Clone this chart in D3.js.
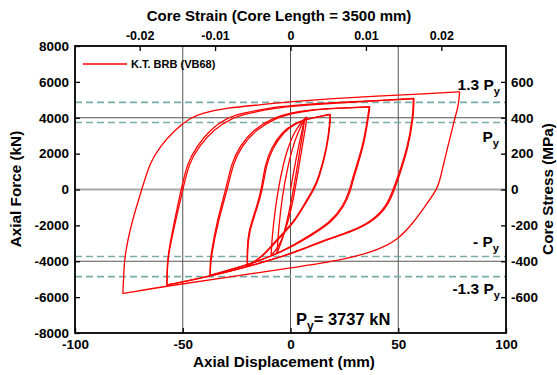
<!DOCTYPE html>
<html>
<head>
<meta charset="utf-8">
<script src="https://cdn.jsdelivr.net/npm/d3@7"></script>
<style>
  body { margin: 0; background: #fff; }
  text { font-family: "Liberation Sans", Arial, sans-serif; font-weight: bold; fill: #000; }
</style>
</head>
<body>
<svg id="chart" width="557" height="375"></svg>
<script>
// ---------- tick labels ----------
const forceTicks = [-8000, -6000, -4000, -2000, 0, 2000, 4000, 6000, 8000];
const dispTicks = [-100, -50, 0, 50, 100];
const strainTicks = [-0.02, -0.01, 0, 0.01, 0.02];
const strainTickLabels = ["-0.02", "-0.01", "0", "0.01", "0.02"];
const stressTicks = [-600, -400, -200, 0, 200, 400, 600];
const coreLength = 3500;
const Py = 3737;
const refLevels = [1.3 * Py, Py, -Py, -1.3 * Py];
const gridX = [-50, 0, 50];
const gridY = [4000, -4000];

// ---------- hysteresis branches [displacement mm, force kN] ----------
const init0 = [[0,0],[3,2000],[6.5,3900]];
const comp1 = [[6.5,3900],[6,3400],[4.5,2300],[2,400],[-1,-1500],[-4,-2900],[-5.8,-3400],[-6.3,-3550]];
const tens1 = [[-6.3,-3550],[-6,-3100],[-5.5,-2200],[-4,-500],[-1.5,1200],[2,2800],[5.5,3700],[6.5,3900]];
const comp2 = [[7.5,4050],[7.2,3600],[6,2800],[3.5,1000],[1,-800],[-2.5,-2400],[-6,-3300],[-8.5,-3600],[-9,-3650]];
const tens2 = [[-9,-3650],[-8.8,-3300],[-8.5,-2600],[-7,-1000],[-5,500],[-2,2100],[2,3300],[6.5,3950],[7.5,4050]];
const comp3 = [[18.3,4170],[18.3,4000],[18.2,3720],[17,2400],[12.8,550],[10.5,0],[5.8,-940],[1.2,-1850],[-4.9,-2600],[-10,-3300],[-14,-3800],[-19,-4200],[-20,-4280]];
const tens3 = [[-20,-4280],[-20.1,-4000],[-20.1,-3500],[-19.8,-2400],[-15.6,-940],[-13.5,0],[-11.8,1400],[-9,2300],[-4,3200],[2,3700],[8,3950],[17,4150],[18.3,4170]];
const comp3b = [[18.5,4190],[18.5,4000],[18.4,3720],[17.2,2400],[13.1,550],[10.9,0],[6.2,-940],[1.6,-1850],[-4.4,-2600],[-9.6,-3300],[-13.6,-3800],[-19,-4200],[-20,-4280]];
const tens3b = [[-20,-4280],[-20,-4000],[-19.9,-3500],[-19.4,-2400],[-15.2,-940],[-13,0],[-11.2,1400],[-8.3,2300],[-3.3,3200],[2.5,3700],[8.5,3950],[17,4170],[18.5,4190]];
const comp4 = [[36.5,4590],[36.3,4400],[35.8,4000],[33.6,2400],[28.5,550],[27.6,0],[24.4,-940],[18.3,-1850],[9,-2550],[0,-3200],[-8,-3680],[-20,-4220],[-36,-4740],[-37.3,-4780]];
const tens4 = [[-37.3,-4780],[-37.3,-4500],[-37.2,-4000],[-37,-3720],[-34.3,-1850],[-30,0],[-27.3,1500],[-23.6,2400],[-17.4,3330],[-8,4000],[0,4270],[9,4440],[20,4530],[35,4585],[36.5,4590]];
const comp4b = [[36.8,4620],[36.6,4400],[36.1,4000],[34,2400],[29,550],[28.1,0],[25,-940],[19,-1850],[9.8,-2550],[0.5,-3200],[-8,-3670],[-20,-4200],[-36,-4740],[-37.3,-4780]];
const tens4b = [[-37.3,-4780],[-37.2,-4500],[-36.8,-3720],[-33.8,-1850],[-29.3,0],[-26.5,1500],[-22.7,2400],[-16.2,3330],[-6.5,4000],[0,4230],[9,4420],[20,4520],[35,4610],[36.8,4620]];
const comp5 = [[57,5050],[56.9,4600],[56.6,4000],[54.5,2400],[49.4,550],[47.6,0],[44.5,-940],[38,-1750],[28,-2350],[16,-2800],[6,-3300],[-5,-3800],[-30,-4650],[-56,-5300],[-57.4,-5330]];
const tens5 = [[-57.4,-5330],[-57.3,-5000],[-57.2,-4500],[-57,-3720],[-54,-1850],[-50.8,0],[-47.8,1500],[-43.5,2400],[-37.4,3330],[-29.5,4000],[-22,4270],[-9.5,4550],[0,4680],[20,4850],[40,4960],[55,5040],[57,5050]];
const comp5b = [[57.3,5080],[57.2,4600],[56.9,4000],[54.9,2400],[49.9,550],[48.2,0],[45.1,-940],[38.7,-1750],[28.8,-2350],[16.8,-2800],[6.6,-3300],[-4.6,-3780],[-30,-4640],[-56,-5300],[-57.4,-5330]];
const tens5b = [[-57.4,-5330],[-57.3,-5000],[-57,-3720],[-53.5,-1850],[-50,0],[-47,1500],[-42.5,2400],[-35.8,3330],[-27,4000],[-19,4270],[-6,4550],[0,4630],[20,4820],[40,4940],[55,5070],[57.3,5080]];
const comp6 = [[78.5,5450],[78.2,5000],[77.5,4500],[76.3,4000],[73,2400],[69.4,550],[68,0],[62.4,-940],[57,-1850],[50,-2780],[41.5,-3330],[26,-3900],[0,-4380],[-30,-4900],[-57.4,-5380],[-76,-5770],[-77.8,-5800]];
const tens6 = [[-77.8,-5800],[-77.6,-5300],[-77.3,-4600],[-77,-3720],[-73.8,-1850],[-69,0],[-65.3,1500],[-60.5,2400],[-53.6,3330],[-46.6,4000],[-40.6,4270],[-29.5,4550],[-14,4720],[0,4900],[20,5080],[40,5200],[60,5320],[76,5430],[78.5,5450]];
const branches = [init0, comp1, tens1, comp2, tens2, comp3, tens3, comp3b, tens3b,
  comp4, tens4, comp4b, tens4b, comp5, tens5, comp5b, tens5b, comp6, tens6];
const seriesName = "K.T. BRB (VB68)";

// ---------- layout ----------
const svg = d3.select("#chart");
const L = 75, R = 506, T = 46, B = 333;
const x = d3.scaleLinear().domain([-100, 100]).range([L, R]);
const y = d3.scaleLinear().domain([-8000, 8000]).range([B, T]);
const xs = d3.scaleLinear().domain([-100 / coreLength, 100 / coreLength]).range([L, R]);
const ys = d3.scaleLinear().domain([-800, 800]).range([B, T]);

// grid
svg.append("line").attr("x1", L).attr("x2", R).attr("y1", y(0)).attr("y2", y(0))
  .attr("stroke", "#aaa").attr("stroke-width", 1.8);
svg.selectAll(".gy").data(gridY).join("line")
  .attr("x1", L).attr("x2", R).attr("y1", d => y(d)).attr("y2", d => y(d))
  .attr("stroke", "#555").attr("stroke-width", 1);
svg.selectAll(".gx").data(gridX).join("line")
  .attr("x1", d => x(d)).attr("x2", d => x(d)).attr("y1", T).attr("y2", B)
  .attr("stroke", "#555").attr("stroke-width", 1);

// reference dashed lines
svg.selectAll(".ref").data(refLevels).join("line")
  .attr("x1", L).attr("x2", R).attr("y1", d => y(d)).attr("y2", d => y(d))
  .attr("stroke", "#7aabab").attr("stroke-width", 1.6).attr("stroke-dasharray", "7,4");

// curves
const line = d3.line().x(d => x(d[0])).y(d => y(d[1])).curve(d3.curveBasis);
svg.append("g").selectAll("path").data(branches).join("path")
  .attr("d", line).attr("fill", "none").attr("stroke", "#ff0000").attr("stroke-width", 1.3)
  .attr("stroke-linejoin", "round");

// axes
const fmt = d => String(d);
const gl = svg.append("g").attr("transform", `translate(${L},0)`)
  .call(d3.axisLeft(y).tickValues(forceTicks).tickSize(-5).tickPadding(6).tickFormat(fmt));
const gb = svg.append("g").attr("transform", `translate(0,${B})`)
  .call(d3.axisBottom(x).tickValues(dispTicks).tickSize(-5).tickPadding(6).tickFormat(fmt));
const gt = svg.append("g").attr("transform", `translate(0,${T})`)
  .call(d3.axisTop(xs).tickValues(strainTicks).tickSize(-5).tickPadding(6).tickFormat((d, i) => strainTickLabels[i]));
const gr = svg.append("g").attr("transform", `translate(${R},0)`)
  .call(d3.axisRight(ys).tickValues(stressTicks).tickSize(-5).tickPadding(5).tickFormat(fmt));
[gl, gb, gt, gr].forEach(g => {
  g.select(".domain").remove();
  g.selectAll(".tick line").attr("stroke", "#000").attr("stroke-width", 1.3);
  g.selectAll("text").attr("font-size", 13.5).attr("font-family", "Liberation Sans, Arial, sans-serif")
    .attr("font-weight", "bold").attr("fill", "#000");
});
gt.selectAll("text").attr("font-size", 12.5);

// frame
svg.append("rect").attr("x", L).attr("y", T).attr("width", R - L).attr("height", B - T)
  .attr("fill", "none").attr("stroke", "#000").attr("stroke-width", 1.8);

// titles
svg.append("text").attr("x", 279).attr("y", 21).attr("text-anchor", "middle").attr("font-size", 15)
  .text("Core Strain (Core Length = 3500 mm)");
svg.append("text").attr("x", 284).attr("y", 367).attr("text-anchor", "middle").attr("font-size", 15.3)
  .text("Axial Displacement (mm)");
svg.append("text").attr("transform", "translate(21,189) rotate(-90)").attr("text-anchor", "middle")
  .attr("font-size", 15.3).text("Axial Force (kN)");
svg.append("text").attr("transform", "translate(553,189) rotate(-90)").attr("text-anchor", "middle")
  .attr("font-size", 15.3).text("Core Stress (MPa)");

// legend
svg.append("line").attr("x1", 83).attr("x2", 127).attr("y1", 64).attr("y2", 64)
  .attr("stroke", "#ff0000").attr("stroke-width", 1.4);
svg.append("text").attr("x", 131).attr("y", 68).attr("font-size", 11).text(seriesName);

// annotations
function pyLabel(xr, yb, prefix, size) {
  const t = svg.append("text").attr("x", xr).attr("y", yb).attr("text-anchor", "end").attr("font-size", size);
  t.append("tspan").text(prefix + "P");
  t.append("tspan").attr("dy", 5).attr("font-size", size * 0.72).text("y");
}
pyLabel(500, 90, "1.3 ", 15.5);
pyLabel(499, 142, "", 15.5);
pyLabel(499, 247, "- ", 15.5);
pyLabel(500, 294, "-1.3 ", 15.5);
const ann = svg.append("text").attr("x", 296).attr("y", 325).attr("font-size", 16.5);
ann.append("tspan").text("P");
ann.append("tspan").attr("dy", 5).attr("font-size", 12).text("y");
ann.append("tspan").attr("dy", -5).text("= " + Py + " kN");
</script>
</body>
</html>
